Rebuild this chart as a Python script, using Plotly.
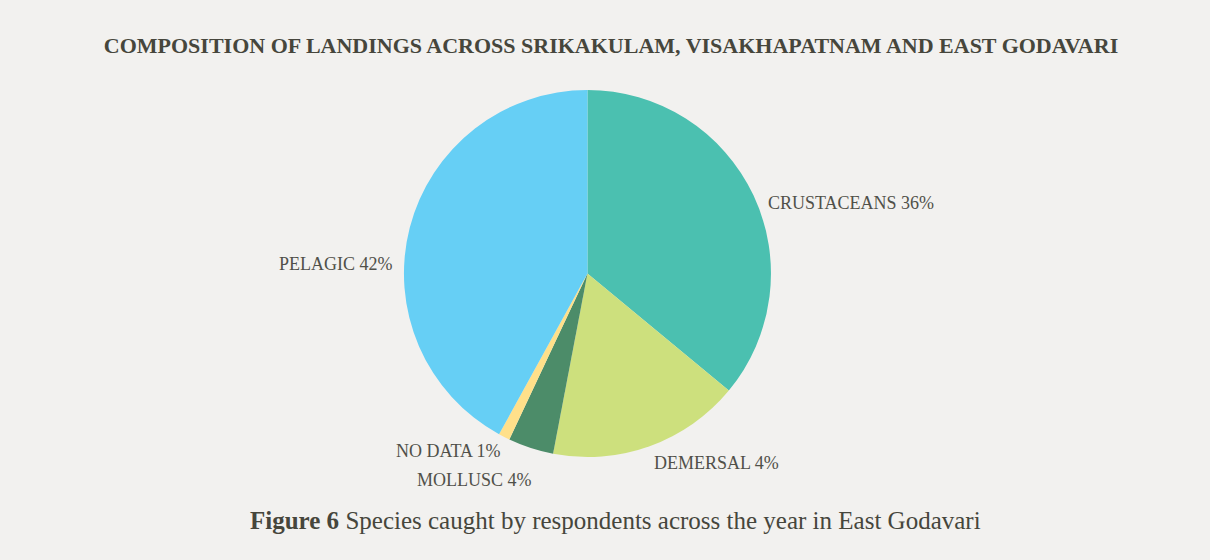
import plotly.graph_objects as go

categories = ["CRUSTACEANS", "DEMERSAL", "MOLLUSC", "NO DATA", "PELAGIC"]
values = [36, 17, 4, 1, 42]
label_pct = ["36%", "4%", "4%", "1%", "42%"]
colors = ["#4BC0B0", "#CDE07D", "#4C8C69", "#FFE08A", "#66CFF5"]

# label placement (pixels in the 1210x560 canvas): x, y, anchor
label_pos = [(766, 203, "left"), (652, 463, "left"), (534, 480, "right"),
             (503, 451, "right"), (395, 264, "right")]

W, H = 1210, 560
M_T, M_B = 90, 103
plot_h = H - M_T - M_B

fig = go.Figure(go.Pie(
    labels=categories,
    values=values,
    textinfo="none",
    sort=False,
    direction="clockwise",
    rotation=0,
    marker=dict(colors=colors, line=dict(width=0)),
    showlegend=False,
    hoverinfo="label+percent",
    domain=dict(x=[0.2005, 0.7705], y=[0, 1]),
))

annotations = []
for c, p, (px, py, anc) in zip(categories, label_pct, label_pos):
    annotations.append(dict(
        text=f"{c} {p}", x=px / W, xref="paper", xanchor=anc,
        y=(H - M_B - py) / plot_h, yref="paper", yanchor="middle",
        showarrow=False,
        font=dict(family="Liberation Serif", size=18, color="#505049"),
    ))

annotations.append(dict(
    text="<b>Figure 6</b> Species caught by respondents across the year in East Godavari",
    x=615 / W, xref="paper", xanchor="center",
    y=(H - M_B - 520) / plot_h, yref="paper", yanchor="middle",
    showarrow=False,
    font=dict(family="Liberation Serif", size=25, color="#46463C"),
))

fig.update_layout(
    width=W, height=H,
    margin=dict(l=0, r=0, t=M_T, b=M_B),
    paper_bgcolor="#F2F1EF",
    plot_bgcolor="#F2F1EF",
    title=dict(
        text="<b>COMPOSITION OF LANDINGS ACROSS SRIKAKULAM, VISAKHAPATNAM AND EAST GODAVARI</b>",
        x=611 / W, xanchor="center", y=1 - 45 / H, yanchor="middle",
        font=dict(family="Liberation Serif", size=22, color="#46463C"),
    ),
    annotations=annotations,
)

fig.write_html("out.html")
